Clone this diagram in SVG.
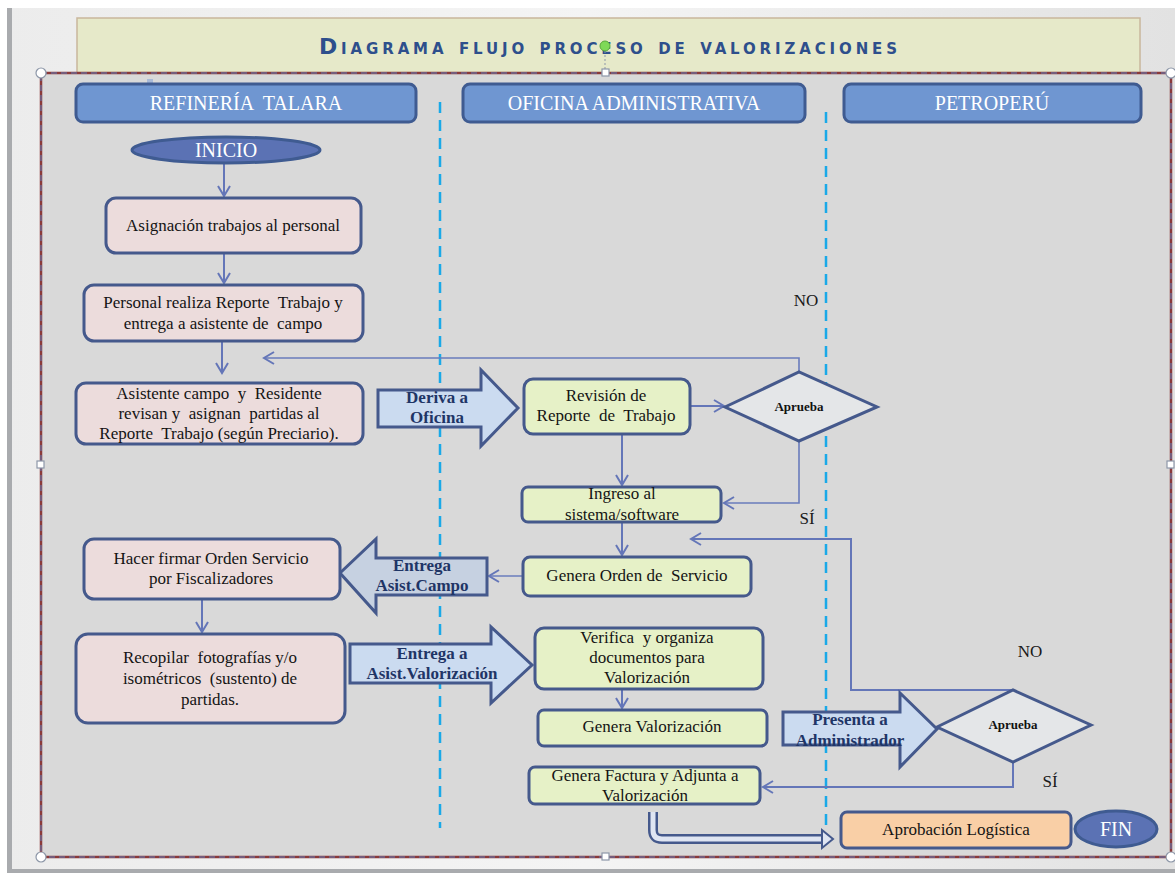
<svg xmlns="http://www.w3.org/2000/svg" width="1175" height="877" viewBox="0 0 1175 877">
<defs>
<linearGradient id="bg" x1="0" y1="0" x2="1" y2="0">
<stop offset="0" stop-color="#ececec"/><stop offset="0.5" stop-color="#f4f4f4"/><stop offset="1" stop-color="#e2e2e2"/>
</linearGradient>
<marker id="ah" markerUnits="userSpaceOnUse" markerWidth="14" markerHeight="14" refX="11" refY="7" orient="auto">
<path d="M1,1 L11,7 L1,13" fill="none" stroke="#6476b8" stroke-width="2"/>
</marker>
<style>
text{white-space:pre}
.lane{fill:#6f96d1;stroke:#3f5b91;stroke-width:3}
.lanet{font-family:"Liberation Serif",serif;font-size:20px;fill:#ffffff;text-anchor:middle}
.pink{fill:#ecdcdc;stroke:#45598c;stroke-width:3}
.green{fill:#e6f1c7;stroke:#45598c;stroke-width:3}
.t{font-family:"Liberation Serif",serif;font-size:17px;fill:#141414;text-anchor:middle}
.bt{font-family:"Liberation Serif",serif;font-size:17px;font-weight:bold;fill:#1f3566;text-anchor:middle}
.dia{fill:#e4e6e8;stroke:#45598c;stroke-width:3}
.dt{font-family:"Liberation Serif",serif;font-size:13px;font-weight:bold;fill:#111;text-anchor:middle}
.ell{fill:#5b72b4;stroke:#3f5b91;stroke-width:3}
.blk{fill:#cbdbf0;stroke:#45598c;stroke-width:3}
.c{fill:none;stroke:#6476b8;stroke-width:2}
.cf{fill:none;stroke:#6a7cbc;stroke-width:1.6}
.sep{stroke:#19a9e8;stroke-width:2.5;stroke-dasharray:11 7}
.lbl{font-family:"Liberation Serif",serif;font-size:17px;fill:#1a1a1a;text-anchor:middle}
.hnd{fill:#ffffff;stroke:#8d97a8;stroke-width:1.2}
</style>
</defs>

<!-- window background -->
<rect x="0" y="0" width="1175" height="877" fill="url(#bg)"/>
<rect x="0" y="0" width="1175" height="8" fill="#ffffff"/>
<rect x="0" y="8" width="7" height="869" fill="#ffffff"/>
<rect x="7" y="8" width="5" height="865" fill="#a9abae"/>
<rect x="7" y="869" width="1168" height="4" fill="#a9abae"/>
<rect x="0" y="873" width="1175" height="4" fill="#ffffff"/>

<!-- title -->
<g id="title">
<rect x="77" y="18" width="1063" height="55" fill="#e6e9c9" stroke="#c9b79c" stroke-width="1.5"/>
<text x="608" y="54" font-family="DejaVu Sans, sans-serif" font-size="22" font-weight="bold" font-variant="small-caps" fill="#2e4f8c" text-anchor="middle" textLength="578" lengthAdjust="spacing">Diagrama flujo proceso de valorizaciones</text>
</g>

<!-- main panel -->
<rect x="41" y="73" width="1130" height="784" fill="#d9d9d9"/>
<rect x="147" y="79" width="6" height="7" fill="#a9bad8"/>

<!-- lane headers -->
<g id="lane-refineria"><rect class="lane" x="76" y="84" width="340" height="38" rx="7"/><text class="lanet" x="246" y="110">REFINERÍA  TALARA</text></g>
<g id="lane-oficina"><rect class="lane" x="463" y="84" width="342" height="38" rx="7"/><text class="lanet" x="634" y="110">OFICINA ADMINISTRATIVA</text></g>
<g id="lane-petroperu"><rect class="lane" x="844" y="84" width="297" height="38" rx="7"/><text class="lanet" x="992" y="110">PETROPERÚ</text></g>

<!-- lane separators -->
<line class="sep" x1="440" y1="102" x2="440" y2="828"/>
<line class="sep" x1="826" y1="112" x2="826" y2="828"/>

<!-- connectors -->
<g id="connectors">
<line class="c" x1="224" y1="163" x2="224" y2="196" marker-end="url(#ah)"/>
<line class="c" x1="224" y1="254" x2="224" y2="283" marker-end="url(#ah)"/>
<line class="c" x1="222" y1="342" x2="222" y2="373" marker-end="url(#ah)"/>
<polyline class="cf" points="799,372 799,358 264,358" marker-end="url(#ah)"/>
<line class="c" x1="691" y1="406" x2="724" y2="406" marker-end="url(#ah)"/>
<line class="c" x1="622" y1="435" x2="622" y2="485" marker-end="url(#ah)"/>
<polyline class="cf" points="799,441 799,503 724,503" marker-end="url(#ah)"/>
<line class="c" x1="622" y1="523" x2="622" y2="555" marker-end="url(#ah)"/>
<line class="cf" x1="523" y1="576" x2="489" y2="576" marker-end="url(#ah)"/>
<line class="c" x1="202" y1="600" x2="202" y2="632" marker-end="url(#ah)"/>
<line class="c" x1="622" y1="690" x2="622" y2="708" marker-end="url(#ah)"/>
<polyline class="c" points="1013,690 851,690 851,539 691,539" marker-end="url(#ah)"/>
<polyline class="c" points="1013,762 1013,787 763,787" marker-end="url(#ah)"/>
<!-- hollow bent arrow -->
<path d="M653,812 V830 Q653,839 662,839 H823" fill="none" stroke="#45598c" stroke-width="10"/>
<path d="M653,812 V830 Q653,839 662,839 H824" fill="none" stroke="#dfe5f2" stroke-width="5"/>
<polygon points="822,830 833,839 822,848" fill="#dfe5f2" stroke="#45598c" stroke-width="2"/>
</g>

<!-- nodes -->
<g id="inicio"><ellipse class="ell" cx="226" cy="150" rx="94" ry="13"/><text class="lanet" x="226" y="157" font-size="18">INICIO</text></g>

<g id="asignacion"><rect class="pink" x="106" y="198" width="255" height="55" rx="10"/><text class="t" x="233" y="231">Asignación trabajos al personal</text></g>

<g id="personal"><rect class="pink" x="84" y="285" width="279" height="56" rx="10"/><text class="t" x="223" y="308">Personal realiza Reporte  Trabajo y</text><text class="t" x="223" y="329">entrega a asistente de  campo</text></g>

<g id="asistente"><rect class="pink" x="76" y="383" width="287" height="61" rx="10"/><text class="t" x="219" y="399">Asistente campo  y  Residente</text><text class="t" x="219" y="419">revisan y  asignan  partidas al</text><text class="t" x="219" y="439">Reporte  Trabajo (según Preciario).</text></g>

<g id="deriva"><polygon class="blk" points="378,390 481,390 481,370 518,408 481,446 481,427 378,427"/><text class="bt" x="437" y="403">Deriva a</text><text class="bt" x="437" y="423">Oficina</text></g>

<g id="revision"><rect class="green" x="524" y="379" width="166" height="55" rx="9"/><text class="t" x="606" y="401">Revisión de</text><text class="t" x="606" y="421">Reporte  de  Trabajo</text></g>

<g id="aprueba1"><polygon class="dia" points="725,407 799,372 877,407 799,441"/><text class="dt" x="799" y="411">Aprueba</text></g>
<text class="lbl" x="806" y="306">NO</text>
<text class="lbl" x="807" y="524">SÍ</text>

<g id="ingreso"><rect class="green" x="522" y="487" width="199" height="35" rx="6"/><text class="t" x="622" y="499">Ingreso al</text><text class="t" x="622" y="520">sistema/software</text></g>

<g id="genera-orden"><rect class="green" x="523" y="557" width="228" height="39" rx="7"/><text class="t" x="637" y="581">Genera Orden de  Servicio</text></g>

<g id="entrega-campo"><polygon fill="#c6d1e1" stroke="#45598c" stroke-width="3" points="487,558 376,558 376,539 340,573 376,613 376,595 487,595"/><text class="bt" x="422" y="571">Entrega</text><text class="bt" x="422" y="591">Asist.Campo</text></g>

<g id="hacer-firmar"><rect class="pink" x="84" y="539" width="256" height="60" rx="10"/><text class="t" x="211" y="564">Hacer firmar Orden Servicio</text><text class="t" x="211" y="584">por Fiscalizadores</text></g>

<g id="recopilar"><rect class="pink" x="76" y="634" width="269" height="89" rx="12"/><text class="t" x="210" y="663">Recopilar  fotografías y/o</text><text class="t" x="210" y="684">isométricos  (sustento) de</text><text class="t" x="210" y="705">partidas.</text></g>

<g id="entrega-valorizacion"><polygon class="blk" points="350,644 491,644 491,627 532,665 491,703 491,683 350,683"/><text class="bt" x="432" y="659">Entrega a</text><text class="bt" x="432" y="679">Asist.Valorización</text></g>

<g id="verifica"><rect class="green" x="535" y="628" width="228" height="61" rx="9"/><text class="t" x="647" y="643">Verifica  y organiza</text><text class="t" x="647" y="663">documentos para</text><text class="t" x="647" y="683">Valorización</text></g>

<g id="genera-valorizacion"><rect class="green" x="538" y="710" width="229" height="36" rx="6"/><text class="t" x="652" y="732">Genera Valorización</text></g>

<g id="genera-factura"><rect class="green" x="529" y="767" width="231" height="37" rx="6"/><text class="t" x="645" y="781">Genera Factura y Adjunta a</text><text class="t" x="645" y="801">Valorización</text></g>

<g id="presenta"><polygon class="blk" points="783,712 900,712 900,693 937,729 900,767 900,745 783,745"/><text class="bt" x="850" y="725">Presenta a</text><text class="bt" x="850" y="746">Administrador</text></g>

<g id="aprueba2"><polygon class="dia" points="937,727 1013,690 1091,725 1013,762"/><text class="dt" x="1013" y="729">Aprueba</text></g>
<text class="lbl" x="1030" y="657">NO</text>
<text class="lbl" x="1050" y="787">SÍ</text>

<g id="aprobacion"><rect fill="#f9cfa6" stroke="#45598c" stroke-width="3" x="841" y="812" width="230" height="36" rx="6"/><text class="t" x="956" y="835">Aprobación Logística</text></g>

<g id="fin"><ellipse class="ell" cx="1116" cy="829" rx="41" ry="18"/><text class="lanet" x="1116" y="836" font-size="18">FIN</text></g>

<!-- selection frame -->
<rect x="41" y="73" width="1130" height="784" fill="none" stroke="#8b3a3a" stroke-width="2.5"/>
<rect x="41" y="73" width="1130" height="784" fill="none" stroke="#5f80c0" stroke-width="1" stroke-dasharray="6 4"/>
<line x1="605" y1="51" x2="605" y2="70" stroke="#8d97a8" stroke-width="1" stroke-dasharray="2 2"/>
<circle cx="605" cy="46" r="5" fill="#7ed957" stroke="#5aa83a" stroke-width="1"/>
<circle class="hnd" cx="41" cy="73" r="5"/>
<circle class="hnd" cx="1171" cy="73" r="5"/>
<circle class="hnd" cx="41" cy="857" r="5"/>
<circle class="hnd" cx="1171" cy="857" r="5"/>
<rect class="hnd" x="602" y="69" width="7" height="7"/>
<rect class="hnd" x="37" y="461" width="7" height="7"/>
<rect class="hnd" x="1167" y="461" width="7" height="7"/>
<rect class="hnd" x="602" y="853" width="7" height="7"/>
</svg>
